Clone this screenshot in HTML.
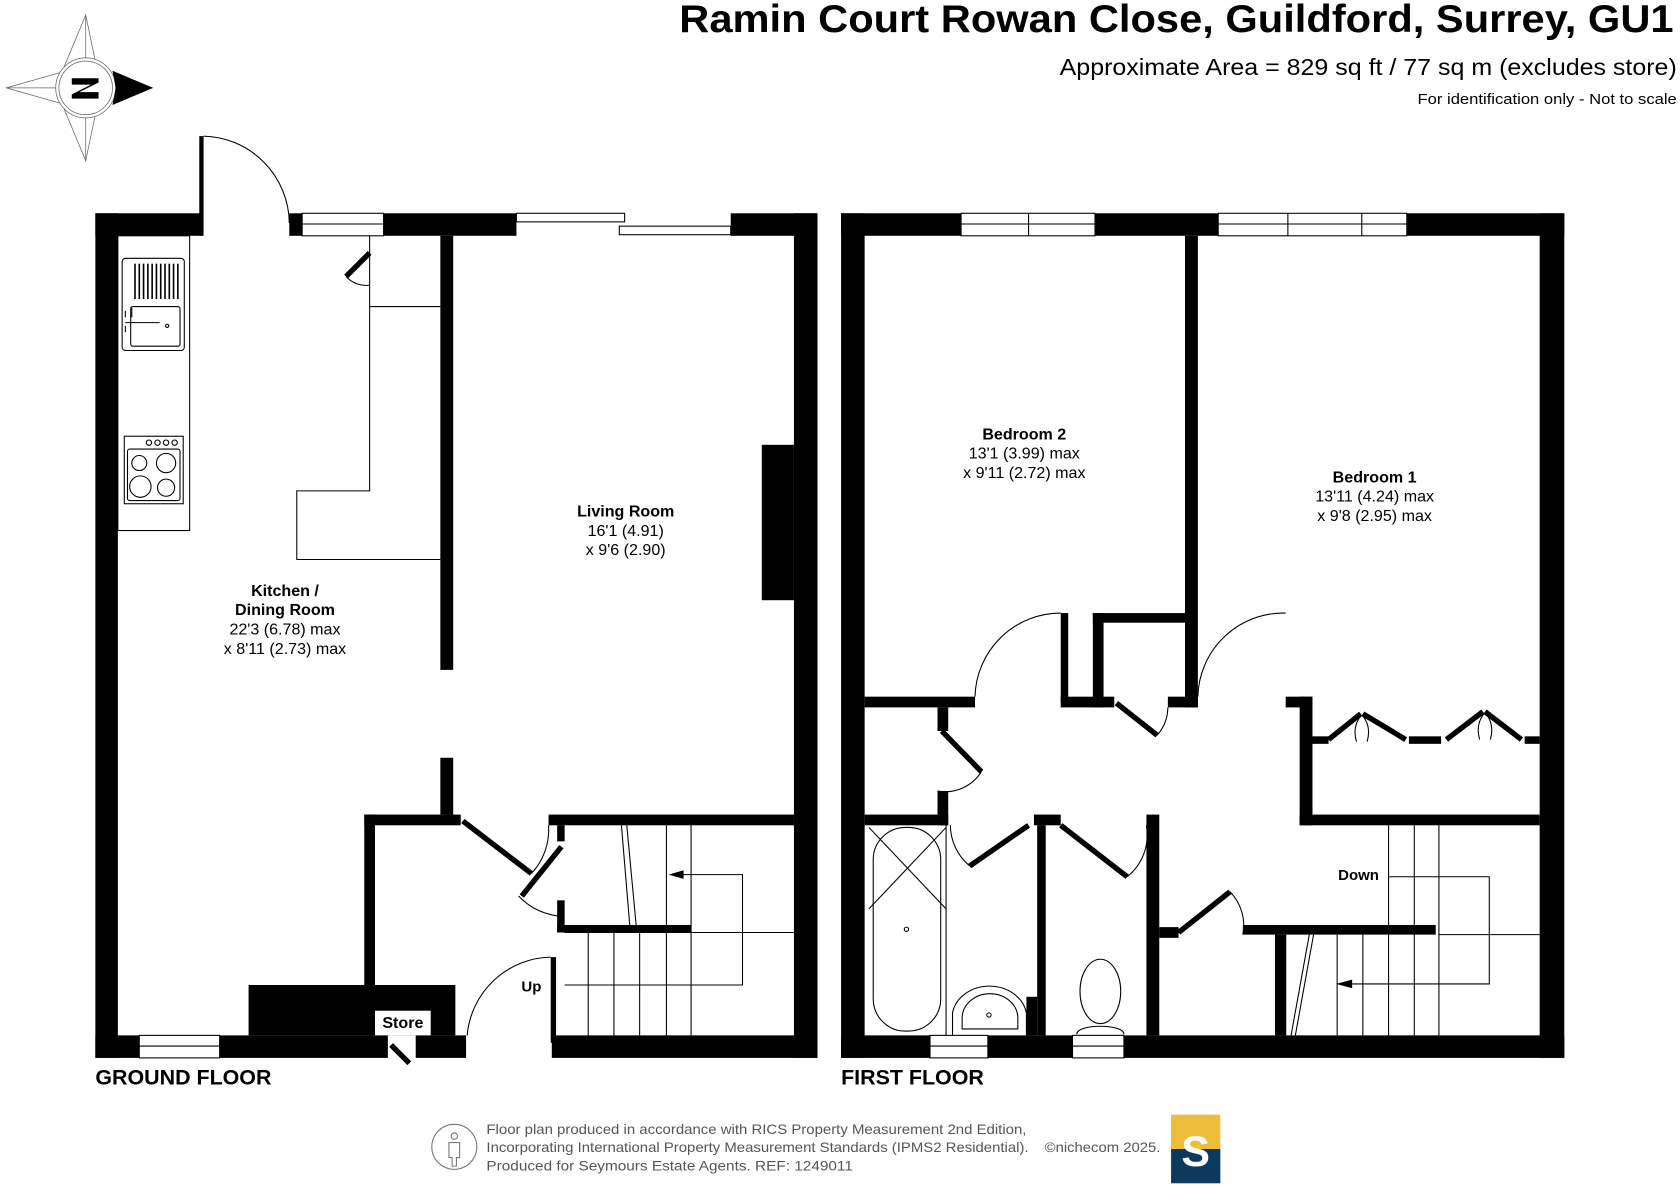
<!DOCTYPE html>
<html><head><meta charset="utf-8"><style>
html,body{margin:0;padding:0;background:#fff;}
svg{display:block;}
text{font-family:"Liberation Sans",Arial,sans-serif;}
</style></head><body>
<svg width="1680" height="1194" viewBox="0 0 1568 1114" preserveAspectRatio="none" xmlns="http://www.w3.org/2000/svg">
<rect width="1568" height="1114" fill="#fff"/>
<!-- Title -->
<text x="1562" y="30" text-anchor="end" font-size="36" font-weight="bold" textLength="928" lengthAdjust="spacingAndGlyphs">Ramin Court Rowan Close, Guildford, Surrey, GU1</text>
<text x="1565" y="70" text-anchor="end" font-size="22" textLength="576" lengthAdjust="spacingAndGlyphs">Approximate Area = 829 sq ft / 77 sq m (excludes store)</text>
<text x="1565" y="97" text-anchor="end" font-size="14" textLength="242" lengthAdjust="spacingAndGlyphs">For identification only - Not to scale</text>
<!-- Compass -->
<g stroke="#666" stroke-width="0.7" fill="none">
<polygon points="80,14 90,62 75,82 60,62"/>
<polygon points="80,150 90,102 75,82 60,102"/>
<polygon points="6,82 55,68 75,82 55,96"/>
<line x1="80" y1="14" x2="80" y2="150"/><line x1="6" y1="82" x2="75" y2="82"/>
<circle cx="80" cy="82" r="28" fill="#fff"/><circle cx="80" cy="82" r="25"/>
</g>
<polygon points="105,66 143,82 105,98 108,82" fill="#000"/>
<path d="M67,73 H92 V77 L74,86 H92 V92 H67 V88 L85,79 H67Z" fill="#000"/>

<g fill="#000">
<!-- GROUND FLOOR walls -->
<rect x="89" y="199" width="100" height="21"/>
<rect x="186" y="127" width="4" height="93"/>
<rect x="270" y="199" width="12" height="21"/>
<rect x="358" y="199" width="124" height="21"/>
<rect x="682" y="199" width="81" height="21"/>
<rect x="89" y="199" width="21" height="788"/>
<rect x="741" y="199" width="22" height="571"/>
<rect x="741" y="760" width="22" height="227"/>
<rect x="89" y="966" width="41" height="21"/>
<rect x="205" y="966" width="157" height="21"/>
<rect x="388" y="966" width="47" height="21"/>
<rect x="515" y="966" width="248" height="21"/>
<rect x="232" y="919" width="193" height="47"/>
<rect x="411" y="220" width="12" height="405"/>
<rect x="411" y="707" width="12" height="53"/>
<rect x="340" y="760" width="90" height="10"/>
<rect x="340" y="760" width="10" height="159"/>
<rect x="512" y="760" width="229" height="10"/>
<rect x="520" y="770" width="7" height="15"/>
<rect x="520" y="840" width="7" height="30"/>
<rect x="520" y="863" width="125" height="7"/>
<rect x="514" y="893" width="5" height="80"/>
<!-- FIRST FLOOR walls -->
<rect x="785" y="199" width="112" height="21"/>
<rect x="1022" y="199" width="115" height="21"/>
<rect x="1313" y="199" width="147" height="21"/>
<rect x="785" y="199" width="22" height="788"/>
<rect x="1437" y="199" width="23" height="788"/>
<rect x="785" y="966" width="83" height="21"/>
<rect x="922" y="966" width="79" height="21"/>
<rect x="1049" y="966" width="411" height="21"/>
<rect x="1106" y="220" width="12" height="440"/>
<rect x="1020" y="572" width="86" height="9"/>
<rect x="1020" y="572" width="10" height="88"/>
<rect x="990" y="572" width="7" height="83"/>
<rect x="990" y="650" width="50" height="10"/>
<rect x="1090" y="650" width="28" height="10"/>
<rect x="807" y="650" width="103" height="10"/>
<rect x="875" y="660" width="10" height="22"/>
<rect x="875" y="738" width="10" height="32"/>
<rect x="807" y="760" width="78" height="10"/>
<rect x="1200" y="650" width="25" height="10"/>
<rect x="1213" y="650" width="12" height="120"/>
<rect x="1213" y="760" width="224" height="10"/>
<rect x="965" y="760" width="25" height="10"/>
<rect x="968" y="770" width="8" height="196"/>
<rect x="958" y="930" width="10" height="36"/>
<rect x="1070" y="760" width="12" height="206"/>
<rect x="1082" y="865" width="18" height="10"/>
<rect x="1160" y="863" width="180" height="9"/>
<rect x="1190" y="872" width="10" height="94"/>
<rect x="1225" y="687" width="15" height="7"/>
<rect x="1315" y="687" width="30" height="7"/>
<rect x="1423" y="687" width="14" height="7"/>
</g>
<!-- windows -->
<g fill="#fff" stroke="#000" stroke-width="1">
<rect x="282" y="199" width="76" height="21"/><line x1="282" y1="209" x2="358" y2="209"/>
<rect x="130" y="966" width="75" height="21"/><line x1="130" y1="976" x2="205" y2="976"/>
<rect x="482" y="199" width="101" height="8"/><rect x="578" y="211" width="104" height="8"/>
<rect x="897" y="199" width="125" height="21"/><line x1="960" y1="199" x2="960" y2="220"/><line x1="897" y1="209" x2="1022" y2="209"/>
<rect x="1137" y="199" width="176" height="21"/><line x1="1202" y1="199" x2="1202" y2="220"/><line x1="1271" y1="199" x2="1271" y2="220"/><line x1="1137" y1="209" x2="1313" y2="209"/>
<rect x="868" y="966" width="54" height="21"/><line x1="868" y1="976" x2="922" y2="976"/>
<rect x="1001" y="966" width="48" height="21"/><line x1="1001" y1="976" x2="1049" y2="976"/>
</g>
<!-- thin lines / arcs / door leaves -->
<g fill="none" stroke="#000" stroke-width="1">
<path d="M190,127 A82,82 0 0 1 270,208"/>
<rect x="110" y="220" width="67" height="275"/>
<rect x="114" y="241" width="58" height="86" rx="3"/>
<rect x="122" y="286" width="46" height="37" rx="2"/>
<path d="M123,287 v9 M117,290 v6 M117,304 v6 M117,301 h32"/>
<circle cx="156" cy="304" r="1.5"/>
<rect x="116" y="407" width="55" height="63"/>
<rect x="119" y="419" width="49" height="48" rx="2"/>
<circle cx="130" cy="432" r="7"/><circle cx="155" cy="432" r="9"/><circle cx="131" cy="454" r="10"/><circle cx="155" cy="455" r="8"/>
<circle cx="147" cy="413" r="2.5"/><circle cx="155" cy="413" r="2.5"/><circle cx="163" cy="413" r="2.5"/><circle cx="139" cy="413" r="2.5"/>
<polyline points="345,220 345,458 277,458 277,522 411,522"/>
<line x1="345" y1="286" x2="411" y2="286"/>
<path d="M323,258 A25,25 0 0 0 345,266"/>
<path d="M496,815 A60,60 0 0 0 512,770"/>
<path d="M484,836 A60,60 0 0 0 527,855"/>
<path d="M436,966 A80,80 0 0 1 514,893"/>
<line x1="580" y1="770" x2="588" y2="866"/><line x1="585" y1="770" x2="594" y2="866"/>
<line x1="622" y1="770" x2="622" y2="863"/><line x1="645" y1="770" x2="645" y2="966"/>
<polyline points="626,816 693,816 693,919 527,919"/>
<line x1="527" y1="870" x2="741" y2="870"/>
<line x1="549" y1="870" x2="549" y2="966"/><line x1="573" y1="870" x2="573" y2="966"/><line x1="597" y1="870" x2="597" y2="966"/><line x1="622" y1="870" x2="622" y2="966"/>
<!-- first floor -->
<path d="M910,650 A80,80 0 0 1 990,572"/>
<path d="M1118,650 A80,80 0 0 1 1200,572"/>
<path d="M1080,686 A40,40 0 0 0 1090,660"/>
<path d="M875,738 A40,40 0 0 0 916,720"/>
<path d="M887,770 A50,50 0 0 0 905,808"/>
<path d="M1070,770 A50,50 0 0 1 1052,818"/>
<path d="M1148,832 A45,45 0 0 1 1160,872"/>
<path d="M1270,668 Q1262,678 1266,692 M1272,668 Q1280,678 1276,692 M1385,666 Q1377,676 1381,690 M1387,666 Q1395,676 1391,690"/>
<rect x="815" y="772" width="63" height="190" rx="30"/>
<line x1="811" y1="772" x2="883" y2="848"/><line x1="883" y1="772" x2="811" y2="848"/>
<line x1="883" y1="770" x2="883" y2="966"/>
<circle cx="846" cy="867" r="2"/>
<path d="M889,966 V945 A35,30 0 0 1 958,945 V966"/>
<path d="M898,960 V950 A25,22 0 0 1 950,950 V960Z"/>
<circle cx="923" cy="947" r="2"/>
<ellipse cx="1027" cy="925" rx="19" ry="30"/>
<path d="M1005,965 C1005,955 1049,955 1049,965"/>
<line x1="1200" y1="872" x2="1200" y2="966"/>
<line x1="1222" y1="872" x2="1205" y2="966"/><line x1="1226" y1="872" x2="1209" y2="966"/>
<line x1="1248" y1="872" x2="1248" y2="966"/><line x1="1272" y1="872" x2="1272" y2="966"/>
<line x1="1296" y1="770" x2="1296" y2="966"/><line x1="1320" y1="770" x2="1320" y2="966"/><line x1="1343" y1="770" x2="1343" y2="966"/>
<polyline points="1296,818 1390,818 1390,918 1262,918"/>
<line x1="1343" y1="872" x2="1437" y2="872"/>
<circle cx="424" cy="1070" r="21" stroke="#777"/>
</g>
<!-- drainer -->
<g stroke="#000" stroke-width="1.5">
<line x1="126" y1="246" x2="126" y2="279"/><line x1="130" y1="246" x2="130" y2="279"/><line x1="134" y1="246" x2="134" y2="279"/><line x1="138" y1="246" x2="138" y2="279"/><line x1="142" y1="246" x2="142" y2="279"/><line x1="146" y1="246" x2="146" y2="279"/><line x1="150" y1="246" x2="150" y2="279"/><line x1="154" y1="246" x2="154" y2="279"/><line x1="158" y1="246" x2="158" y2="279"/><line x1="162" y1="246" x2="162" y2="279"/><line x1="166" y1="246" x2="166" y2="279"/>
</g>
<g stroke="#000" stroke-width="5" fill="none">
<line x1="323" y1="258" x2="345" y2="236"/>
<line x1="432" y1="766" x2="496" y2="815"/>
<line x1="524" y1="790" x2="487" y2="836"/>
<line x1="365" y1="975" x2="382" y2="992"/>
<line x1="1042" y1="656" x2="1080" y2="686"/>
<line x1="879" y1="682" x2="916" y2="720"/>
<line x1="960" y1="770" x2="905" y2="808"/>
<line x1="990" y1="770" x2="1052" y2="818"/>
<line x1="1100" y1="870" x2="1148" y2="832"/>
<line x1="1240" y1="690" x2="1270" y2="666"/><line x1="1272" y1="666" x2="1312" y2="690"/>
<line x1="1350" y1="690" x2="1384" y2="664"/><line x1="1386" y1="664" x2="1420" y2="690"/>
</g>
<polygon points="624,816 638,812 638,820" fill="#000"/>
<polygon points="1247,918 1262,914 1262,922" fill="#000"/>
<rect x="711" y="415" width="30" height="145" fill="#000"/>
<rect x="350" y="943" width="52" height="23" fill="#fff"/>
<!-- labels -->
<g font-size="15" text-anchor="middle">
<text x="376" y="959" font-weight="bold">Store</text>
<text x="584" y="482" font-weight="bold">Living Room</text>
<text x="584" y="500">16'1 (4.91)</text>
<text x="584" y="518">x 9'6 (2.90)</text>
<text x="266" y="556" font-weight="bold">Kitchen /</text>
<text x="266" y="574" font-weight="bold">Dining Room</text>
<text x="266" y="592">22'3 (6.78) max</text>
<text x="266" y="610">x 8'11 (2.73) max</text>
<text x="956" y="410" font-weight="bold">Bedroom 2</text>
<text x="956" y="428">13'1 (3.99) max</text>
<text x="956" y="446">x 9'11 (2.72) max</text>
<text x="1283" y="450" font-weight="bold">Bedroom 1</text>
<text x="1283" y="468">13'11 (4.24) max</text>
<text x="1283" y="486">x 9'8 (2.95) max</text>
<text x="496" y="925" font-weight="bold" font-size="14">Up</text>
<text x="1268" y="821" font-weight="bold" font-size="14">Down</text>
</g>
<text x="89" y="1012" font-size="20" font-weight="bold">GROUND FLOOR</text>
<text x="785" y="1012" font-size="20" font-weight="bold">FIRST FLOOR</text>
<!-- footer -->
<g font-size="13" fill="#555">
<text x="454" y="1058" textLength="504" lengthAdjust="spacingAndGlyphs">Floor plan produced in accordance with RICS Property Measurement 2nd Edition,</text>
<text x="454" y="1075" textLength="506" lengthAdjust="spacingAndGlyphs">Incorporating International Property Measurement Standards (IPMS2 Residential).</text>
<text x="454" y="1092" textLength="342" lengthAdjust="spacingAndGlyphs">Produced for Seymours Estate Agents.   REF: 1249011</text>
<text x="975" y="1075" textLength="108" lengthAdjust="spacingAndGlyphs">©nichecom 2025.</text>
</g>
<path d="M421,1060 a3,3 0 1 1 6,0 a3,3 0 1 1 -6,0 M419,1066 h10 v14 h-3 v8 h-4 v-8 h-3z" fill="none" stroke="#777" stroke-width="1"/>
<rect x="1093" y="1040" width="46" height="32" fill="#edbd3b"/>
<rect x="1093" y="1072" width="46" height="32" fill="#0b3a5e"/>
<text x="1116" y="1088" font-family="Liberation Serif,serif" font-size="40" font-weight="bold" fill="#fff" text-anchor="middle">S</text>
</svg>
</body></html>
